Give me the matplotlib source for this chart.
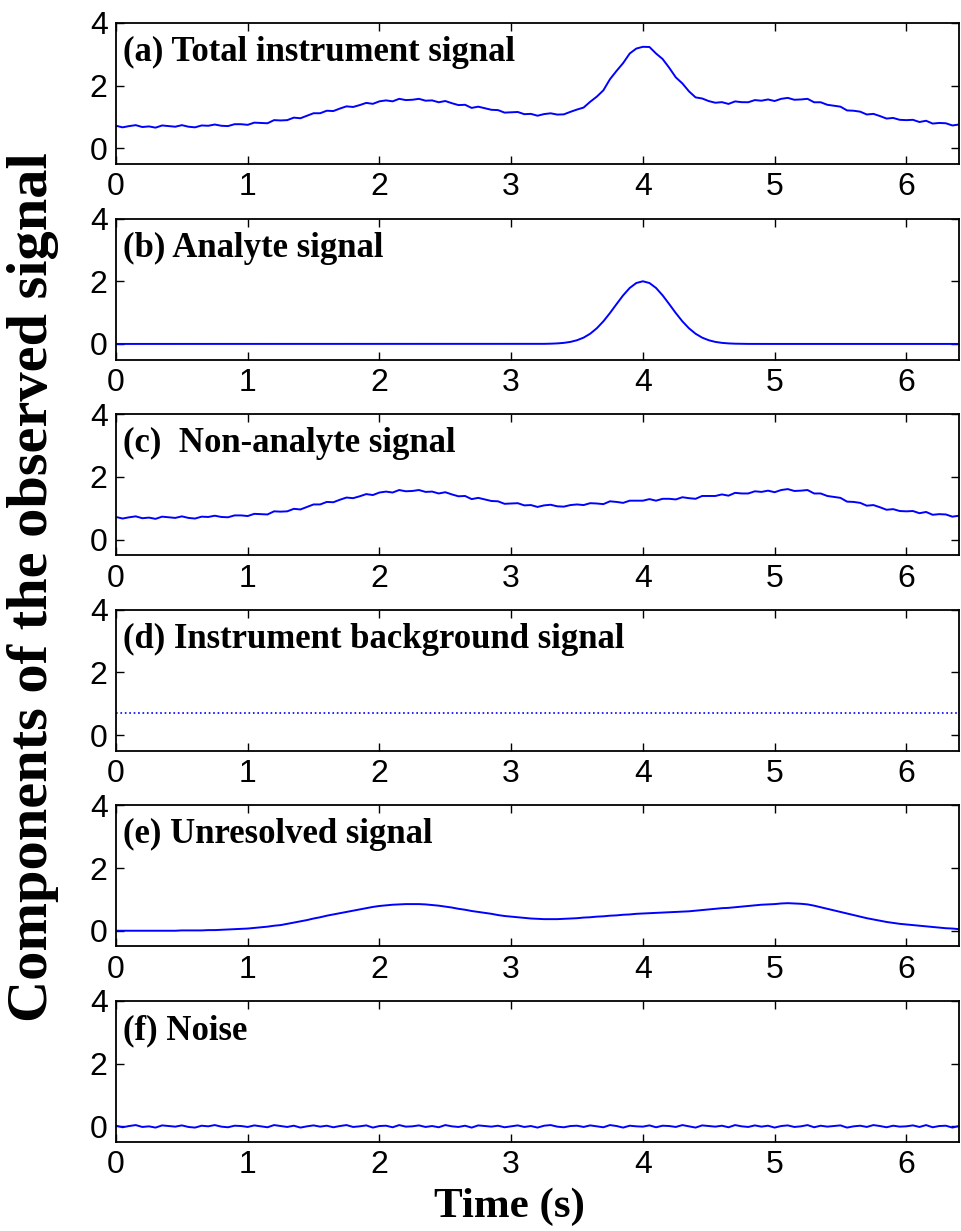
import numpy as np
import matplotlib
matplotlib.use('Agg')
import matplotlib.pyplot as plt

# time grid (s), 0.05 s step
t = np.linspace(0, 6.4, 129)

# unresolved (overlapping) signal
unresolved = [0.00, 0.00, 0.00, 0.00, 0.00, 0.00, 0.00, 0.00, 0.00, 0.00,
              0.01, 0.01, 0.01, 0.01, 0.02, 0.02, 0.03, 0.04, 0.05, 0.06,
              0.07, 0.09, 0.11, 0.13, 0.16, 0.18, 0.22, 0.26, 0.30, 0.34,
              0.39, 0.43, 0.48, 0.52, 0.56, 0.60, 0.64, 0.68, 0.72, 0.76,
              0.79, 0.81, 0.83, 0.84, 0.85, 0.85, 0.85, 0.84, 0.82, 0.80,
              0.77, 0.74, 0.70, 0.67, 0.63, 0.60, 0.57, 0.54, 0.50, 0.47,
              0.45, 0.43, 0.41, 0.39, 0.38, 0.37, 0.37, 0.37, 0.38, 0.39,
              0.40, 0.42, 0.43, 0.45, 0.46, 0.48, 0.49, 0.51, 0.52, 0.54,
              0.55, 0.56, 0.57, 0.58, 0.59, 0.60, 0.61, 0.62, 0.64, 0.66,
              0.68, 0.70, 0.72, 0.73, 0.75, 0.77, 0.79, 0.81, 0.83, 0.84,
              0.85, 0.87, 0.88, 0.87, 0.86, 0.84, 0.80, 0.75, 0.70, 0.65,
              0.60, 0.55, 0.50, 0.45, 0.40, 0.36, 0.32, 0.28, 0.25, 0.22,
              0.20, 0.18, 0.16, 0.14, 0.12, 0.10, 0.08, 0.07, 0.05]

# analyte peak, panel (b), from t = 3.20 to 4.80 s (zero elsewhere)
analyte_start = 3.2
analyte_peak = [0.001, 0.003, 0.008, 0.017, 0.034, 0.065, 0.118, 0.201, 0.326,
                0.499, 0.721, 0.985, 1.271, 1.550, 1.786, 1.944, 2.000, 1.944,
                1.786, 1.550, 1.271, 0.985, 0.721, 0.499, 0.326, 0.201, 0.118,
                0.065, 0.034, 0.017, 0.008, 0.003, 0.001]

# instrument background level, panel (d)
background_level = 0.7

# noise, panel (f)
noise = [0.02, -0.03, 0.01, 0.04, -0.02, 0.00, -0.04, 0.03, 0.01, -0.01,
         0.03, -0.02, -0.04, 0.02, 0.00, 0.04, -0.01, -0.03, 0.02, 0.01,
         -0.02, 0.03, 0.00, -0.03, 0.04, 0.01, -0.02, 0.02, -0.04, 0.00,
         0.03, -0.01, 0.02, -0.03, 0.01, 0.04, -0.02, 0.00, 0.03, -0.04,
         0.01, 0.02, -0.03, 0.04, -0.01, 0.00, 0.03, -0.02, 0.01, -0.03,
         0.04, 0.00, -0.02, 0.02, -0.04, 0.03, 0.01, -0.01, 0.02, -0.03,
         0.00, 0.03, -0.02, 0.01, -0.04, 0.02, 0.04, -0.01, -0.03, 0.01,
         0.02, -0.02, 0.03, 0.00, -0.03, 0.04, 0.01, -0.04, 0.02, 0.00,
         -0.01, 0.03, -0.03, 0.02, 0.01, -0.02, 0.04, 0.00, -0.04, 0.03,
         0.01, -0.01, 0.02, -0.03, 0.04, 0.00, -0.02, 0.03, -0.01, 0.02,
         -0.04, 0.01, 0.03, -0.02, 0.00, 0.04, -0.03, 0.02, -0.01, 0.01,
         0.03, -0.04, 0.00, 0.02, -0.02, 0.04, 0.01, -0.03, 0.02, -0.01,
         0.00, 0.03, -0.02, 0.04, -0.03, 0.01, 0.02, -0.04, 0.01]

labels = ['(a) Total instrument signal', '(b) Analyte signal',
          '(c)  Non-analyte signal', '(d) Instrument background signal',
          '(e) Unresolved signal', '(f) Noise']

# build the components
unresolved = np.array(unresolved)
noise = np.array(noise)
analyte = np.zeros_like(t)
i0 = int(round(analyte_start / 0.05))
analyte[i0:i0 + len(analyte_peak)] = analyte_peak
background = np.full_like(t, background_level)
nonanalyte = background + unresolved + noise
total = nonanalyte + analyte

series = [total, analyte, nonanalyte, background, unresolved, noise]
styles = ['-', '-', '-', ':', '-', '-']

W, H = 962, 1231
fig = plt.figure(figsize=(W / 100, H / 100), dpi=100)
serif = 'Liberation Serif'
sans = 'Liberation Sans'

left, right = 116, 959
axh = 141
for k in range(6):
    top = 23 + 195.6 * k
    ax = fig.add_axes([left / W, 1 - (top + axh) / H, (right - left) / W, axh / H])
    ax.plot(t, series[k], styles[k], color='#0000ff', lw=1.4 if styles[k] == '-' else 1.2)
    ax.set_xlim(0, 6.4)
    ax.set_ylim(-0.5, 4)
    ax.set_xticks(range(7))
    ax.set_yticks([0, 2, 4])
    ax.tick_params(direction='in', top=True, right=True, length=6, width=1,
                   labelsize=23, pad=6)
    for lab in ax.get_xticklabels() + ax.get_yticklabels():
        lab.set_fontfamily(sans)
    for s in ax.spines.values():
        s.set_linewidth(1.3)
    ax.text(0.008, 0.73, labels[k], transform=ax.transAxes, fontsize=25,
            fontweight='bold', family=serif, va='baseline', ha='left')

fig.text(33 / W, 1 - 587 / H, 'Components of the observed signal', rotation=90,
         fontsize=42, fontweight='bold', family=serif, ha='center', va='center')
fig.text(509 / W, 1 - 1207 / H, 'Time (s)', fontsize=31, fontweight='bold',
         family=serif, ha='center', va='center')

fig.savefig('out.png', dpi=100)
